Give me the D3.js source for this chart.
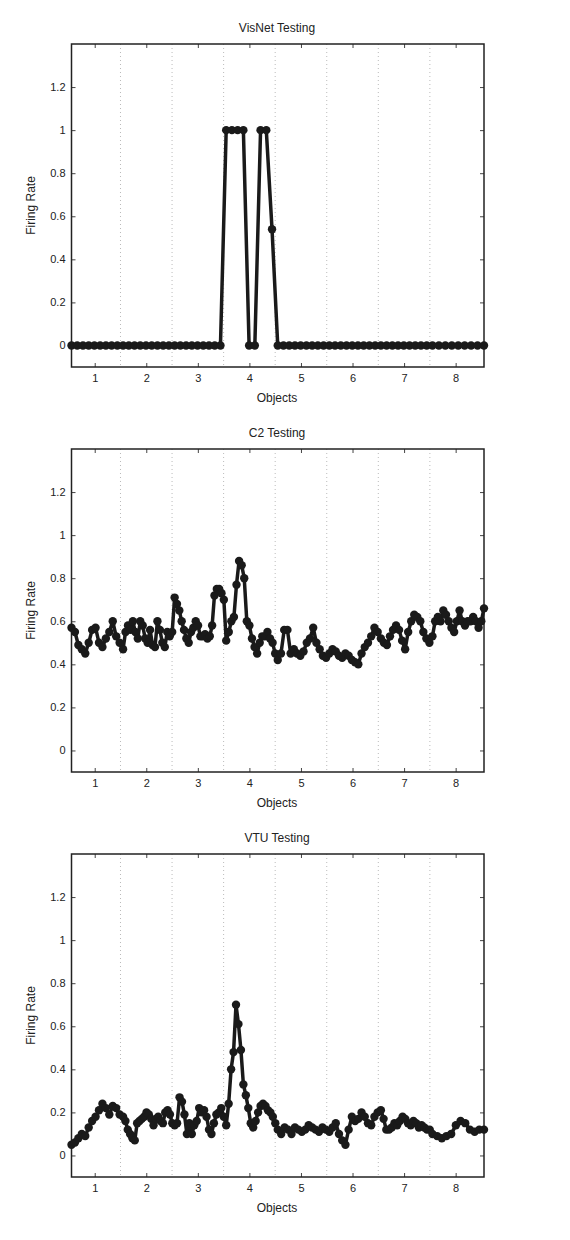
<!DOCTYPE html>
<html><head><meta charset="utf-8">
<script src="https://cdn.jsdelivr.net/npm/d3@7"></script>
<style>body{margin:0;background:#fff}text{font-family:"Liberation Sans",Arial,sans-serif;fill:#222}</style>
</head><body>
<script>
var titles = ["VisNet Testing", "C2 Testing", "VTU Testing"];
var xTicks = [1, 2, 3, 4, 5, 6, 7, 8];
var yTicks = [0, 0.2, 0.4, 0.6, 0.8, 1, 1.2];
var gridX = [1.5, 2.5, 3.5, 4.5, 5.5, 6.5, 7.5];

// values grouped per object (1..8); each group spans one object's width
var visnet = [
  [0,0,0,0,0,0,0,0,0],
  [0,0,0,0,0,0,0,0,0],
  [0,0,0,0,0,0,0,0,0],
  [1,1,1,1,0,0,1,1,0.54],
  [0,0,0,0,0,0,0,0,0],
  [0,0,0,0,0,0,0,0,0],
  [0,0,0,0,0,0,0,0,0],
  [0,0,0,0,0,0,0,0,0]];

var c2 = [
  [0.57,0.55,0.49,0.47,0.45,0.5,0.56,0.57,0.5,0.48,0.52,0.55,0.6,0.53,0.5],
  [0.47,0.55,0.58,0.56,0.6,0.55,0.52,0.6,0.58,0.52,0.5,0.56,0.49,0.48,0.6,0.56,0.5,0.48,0.55,0.53,0.55],
  [0.71,0.68,0.65,0.6,0.56,0.52,0.5,0.55,0.57,0.6,0.58,0.53,0.53,0.54,0.52,0.53,0.58,0.72,0.75,0.75,0.73,0.7],
  [0.51,0.55,0.6,0.62,0.77,0.88,0.86,0.8,0.6,0.58,0.52,0.48,0.45,0.5,0.53,0.53,0.55,0.52,0.5,0.45],
  [0.42,0.45,0.56,0.56,0.45,0.47,0.45,0.44,0.46,0.5,0.52,0.57,0.5,0.47,0.44,0.43],
  [0.45,0.47,0.46,0.44,0.43,0.45,0.44,0.42,0.41,0.40,0.45,0.48,0.5,0.53,0.57,0.55],
  [0.52,0.5,0.49,0.53,0.56,0.58,0.56,0.51,0.47,0.55,0.6,0.63,0.62,0.6,0.55,0.52,0.5],
  [0.53,0.6,0.62,0.6,0.65,0.63,0.6,0.57,0.55,0.6,0.65,0.6,0.58,0.6,0.6,0.62,0.6,0.57,0.6,0.66]];

var vtu = [
  [0.05,0.06,0.08,0.1,0.09,0.13,0.16,0.18,0.21,0.24,0.22,0.19,0.23,0.22,0.19],
  [0.18,0.16,0.12,0.1,0.08,0.07,0.15,0.16,0.17,0.18,0.2,0.19,0.17,0.14,0.17,0.18,0.16,0.15,0.2,0.21,0.19,0.15],
  [0.14,0.15,0.27,0.25,0.19,0.1,0.15,0.1,0.14,0.16,0.22,0.2,0.21,0.18,0.12,0.1,0.15,0.19,0.2,0.22,0.18],
  [0.14,0.24,0.4,0.48,0.7,0.61,0.49,0.33,0.28,0.22,0.15,0.13,0.16,0.2,0.23,0.24,0.23,0.21,0.2,0.18,0.15],
  [0.12,0.1,0.13,0.12,0.1,0.13,0.12,0.11,0.12,0.14,0.13,0.12,0.11,0.13,0.12],
  [0.11,0.13,0.15,0.1,0.07,0.05,0.12,0.18,0.16,0.17,0.2,0.18,0.15,0.14,0.18,0.2],
  [0.21,0.17,0.12,0.12,0.13,0.15,0.14,0.16,0.18,0.17,0.15,0.14,0.16,0.15,0.13,0.14,0.13,0.12,0.12],
  [0.1,0.09,0.08,0.09,0.1,0.14,0.16,0.15,0.12,0.11,0.12,0.12]];

var series = [visnet, c2, vtu];

var width = 570, height = 1240;
var svg = d3.select("body").append("svg").attr("width", width).attr("height", height);

var x = d3.scaleLinear().domain([0.55, 8.55]).range([71.5, 484]);

series.forEach(function(groups, p) {
  var top = 44 + p * 405, bottom = 367 + p * 405;
  var y = d3.scaleLinear().domain([-0.1, 1.4]).range([bottom, top]);
  var g = svg.append("g");

  g.selectAll("line.grid").data(gridX).enter().append("line")
    .attr("x1", d => x(d)).attr("x2", d => x(d))
    .attr("y1", top).attr("y2", bottom)
    .style("stroke", "#bbb").style("stroke-dasharray", "1,3");

  g.append("g").attr("transform", "translate(0," + bottom + ")")
    .call(d3.axisBottom(x).tickValues(xTicks).tickSizeInner(-4).tickSizeOuter(0).tickPadding(7))
    .call(a => a.select(".domain").remove());
  g.append("g").attr("transform", "translate(71.5,0)")
    .call(d3.axisLeft(y).tickValues(yTicks).tickFormat(d3.format("")).tickSizeInner(-4).tickSizeOuter(0).tickPadding(6))
    .call(a => a.select(".domain").remove());
  g.append("g").attr("transform", "translate(484,0)")
    .call(d3.axisRight(y).tickValues(yTicks).tickFormat("").tickSizeInner(-4).tickSizeOuter(0))
    .call(a => a.select(".domain").remove());
  g.append("g").attr("transform", "translate(0," + top + ")")
    .call(d3.axisTop(x).tickValues(xTicks).tickFormat("").tickSizeInner(-4).tickSizeOuter(0))
    .call(a => a.select(".domain").remove());
  g.selectAll(".tick line").style("stroke", "#444");
  g.selectAll(".tick text").style("font-size", "11px");

  g.append("rect").attr("x", 71.5).attr("y", top).attr("width", 484 - 71.5).attr("height", bottom - top)
    .style("fill", "none").style("stroke", "#222").style("stroke-width", 1.5);

  var pts = [];
  groups.forEach(function(vals, k) {
    var last = k === groups.length - 1;
    var n = last ? vals.length - 1 : vals.length;
    vals.forEach(function(v, i) {
      pts.push([x(k + 0.55 + i / n), y(v)]);
    });
  });
  g.append("path").attr("d", d3.line()(pts))
    .style("fill", "none").style("stroke", "#1a1a1a").style("stroke-width", 3.5).style("stroke-linejoin", "round");
  g.selectAll("circle").data(pts).enter().append("circle")
    .attr("cx", d => d[0]).attr("cy", d => d[1]).attr("r", 4.2).style("fill", "#1a1a1a");

  g.append("text").attr("x", 277).attr("y", top - 12).attr("text-anchor", "middle")
    .style("font-size", "12px").text(titles[p]);
  g.append("text").attr("x", 277).attr("y", bottom + 35).attr("text-anchor", "middle")
    .style("font-size", "12px").text("Objects");
  g.append("text").attr("transform", "translate(35," + ((top + bottom) / 2) + ") rotate(-90)")
    .attr("text-anchor", "middle").style("font-size", "12px").text("Firing Rate");
});
</script>
</body></html>
